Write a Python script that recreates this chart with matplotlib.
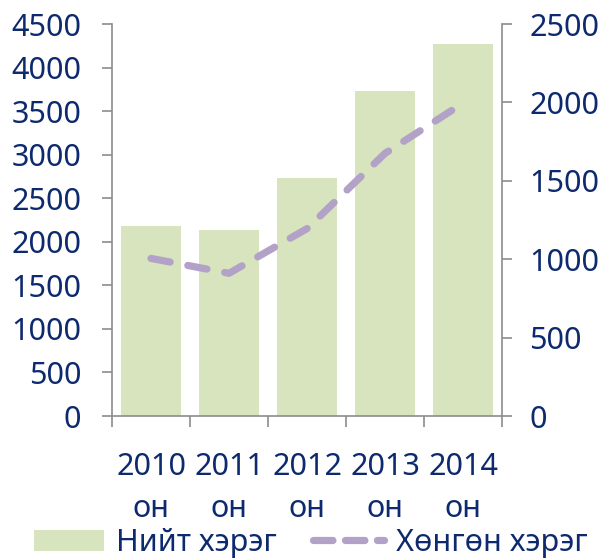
import matplotlib
matplotlib.use("Agg")
import matplotlib.pyplot as plt
import numpy as np
from matplotlib.ticker import FixedLocator, MultipleLocator
from matplotlib.patches import Patch
from matplotlib.lines import Line2D

categories = ["2010\nон", "2011\nон", "2012\nон", "2013\nон", "2014\nон"]
total_cases = [2185, 2135, 2730, 3735, 4265]
light_cases = [1005, 910, 1195, 1675, 1995]
series_names = ["Нийт хэрэг", "Хөнгөн хэрэг"]

TXT = "#0e2a6e"
BAR = "#d7e4bd"
LINE = "#b3a2c7"
SPINE = "#8c8c8c"
FS = 22

plt.rcParams["font.family"] = ["Noto Sans", "DejaVu Sans"]
plt.rcParams["lines.scale_dashes"] = False

fig = plt.figure(figsize=(6.03, 5.59), dpi=100)
ax = fig.add_axes([112/603, 1-416/559, 390/603, 392/559])
ax2 = ax.twinx()

x = np.arange(len(categories))
ax.bar(x, total_cases, width=0.77, color=BAR, zorder=1)
ax2.plot(x, light_cases, color=LINE, lw=5.2, dashes=(14, 13),
         dash_capstyle="round", solid_capstyle="round")

ax.set_xlim(-0.5, len(categories) - 0.5)
ax.set_ylim(0, 4500)
ax2.set_ylim(0, 2500)
ax.yaxis.set_major_locator(MultipleLocator(500))
ax2.yaxis.set_major_locator(MultipleLocator(500))

ax.xaxis.set_major_locator(FixedLocator(np.arange(-0.5, len(categories), 1.0)))
ax.xaxis.set_major_formatter(plt.NullFormatter())
ax.xaxis.set_minor_locator(FixedLocator(x))
ax.set_xticklabels(categories, minor=True)
ax.tick_params(axis="x", which="major", length=8, width=1.2, color=SPINE, direction="out")
ax.tick_params(axis="x", which="minor", length=0, pad=26, labelsize=FS, labelcolor=TXT)
for lab in ax.get_xticklabels(minor=True):
    lab.set_linespacing(1.5)

ax.tick_params(axis="y", length=7, width=1.2, color=SPINE, labelsize=FS, labelcolor=TXT, pad=15)
ax2.tick_params(axis="y", length=7, width=1.2, color=SPINE, labelsize=FS, labelcolor=TXT, pad=12.5)

for a in (ax, ax2):
    a.spines["top"].set_visible(False)
    for s in ("left", "right", "bottom"):
        a.spines[s].set_color(SPINE)
        a.spines[s].set_linewidth(1.2)
ax2.spines["left"].set_visible(False)
ax.spines["right"].set_visible(False)
ax2.spines["bottom"].set_visible(False)

handles = [Patch(facecolor=BAR, edgecolor="none"),
           Line2D([0], [0], color=LINE, lw=5.2, dashes=(14, 9), dash_capstyle="round")]
leg = fig.legend(handles, series_names, loc="center", bbox_to_anchor=(0.515, 1-543/559),
                 ncol=2, frameon=False, fontsize=FS, handlelength=2.3,
                 handletextpad=0.4, columnspacing=1.2, borderaxespad=0, borderpad=0)
for t in leg.get_texts():
    t.set_color(TXT)

fig.savefig("out.png", dpi=100)
